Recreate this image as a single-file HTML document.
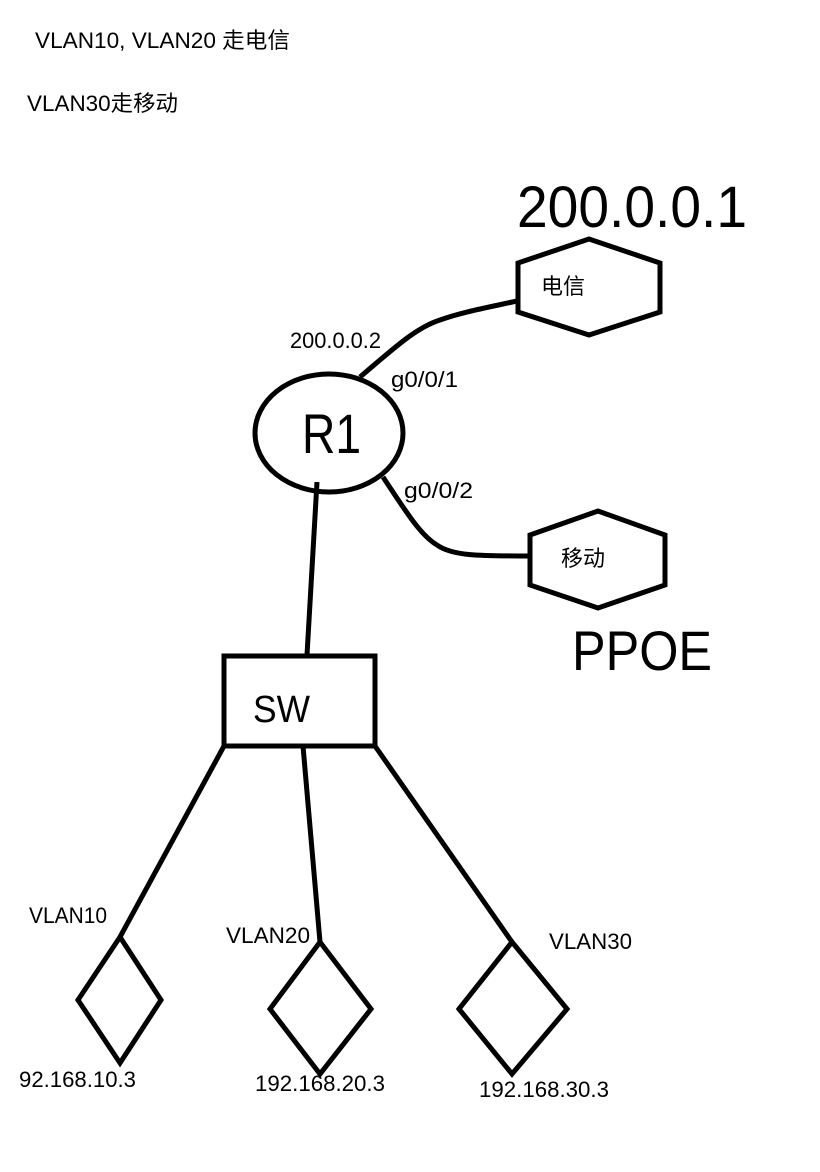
<!DOCTYPE html>
<html>
<head>
<meta charset="utf-8">
<style>
html,body{margin:0;padding:0;background:#fff;width:820px;height:1172px;overflow:hidden}
svg{display:block}
text{font-family:"Liberation Sans","Noto Sans CJK SC",sans-serif;fill:#000}
.s{fill:none;stroke:#000;stroke-width:5;stroke-linejoin:miter}
</style>
</head>
<body>
<svg width="820" height="1172" viewBox="0 0 820 1172" xmlns="http://www.w3.org/2000/svg">
<rect width="820" height="1172" fill="#fff"/>
<polygon class="s" points="518,263 589,239 660,263 660,312 589,335 518,312"/>
<polygon class="s" points="530,535 598,511 665,535 665,585 598,608 530,585"/>
<ellipse class="s" cx="329" cy="433" rx="74" ry="59"/>
<path class="s" d="M360,377 C392,350 415,328 440,320 C462,312 490,307 517,301"/>
<path class="s" d="M383,477 C405,510 420,535 437,545 C452,556 480,556 530,556"/>
<path class="s" d="M317,482 L307,655"/>
<rect class="s" x="224" y="656" width="151" height="90"/>
<path class="s" d="M224,746 L120,937 M303,746 L320,942 M375,746 L512,942"/>
<polygon class="s" points="120,937 161,1000 120,1063 78,1000"/>
<polygon class="s" points="320,942 371,1009 320,1074 270,1009"/>
<polygon class="s" points="512,942 567,1009 512,1074 459,1009"/>

<text x="35" y="48" font-size="22" textLength="255" lengthAdjust="spacingAndGlyphs">VLAN10, VLAN20 走电信</text>
<text x="27" y="111" font-size="22" textLength="151" lengthAdjust="spacingAndGlyphs">VLAN30走移动</text>
<text x="517" y="227" font-size="58" textLength="230" lengthAdjust="spacingAndGlyphs">200.0.0.1</text>
<text x="302" y="453" font-size="56" textLength="59" lengthAdjust="spacingAndGlyphs">R1</text>
<text x="541" y="294" font-size="22" textLength="44" lengthAdjust="spacingAndGlyphs">电信</text>
<text x="561" y="566" font-size="22" textLength="44" lengthAdjust="spacingAndGlyphs">移动</text>
<text x="290" y="348" font-size="22" textLength="91" lengthAdjust="spacingAndGlyphs">200.0.0.2</text>
<text x="391" y="387" font-size="22" textLength="67" lengthAdjust="spacingAndGlyphs">g0/0/1</text>
<text x="404" y="498" font-size="22" textLength="69" lengthAdjust="spacingAndGlyphs">g0/0/2</text>
<text x="572" y="670" font-size="56" textLength="140" lengthAdjust="spacingAndGlyphs">PPOE</text>
<text x="253" y="722" font-size="38" textLength="57" lengthAdjust="spacingAndGlyphs">SW</text>
<text x="29" y="923" font-size="22" textLength="78" lengthAdjust="spacingAndGlyphs">VLAN10</text>
<text x="226" y="943" font-size="22" textLength="84" lengthAdjust="spacingAndGlyphs">VLAN20</text>
<text x="549" y="949" font-size="22" textLength="83" lengthAdjust="spacingAndGlyphs">VLAN30</text>
<text x="19" y="1087" font-size="22" textLength="117" lengthAdjust="spacingAndGlyphs">92.168.10.3</text>
<text x="255" y="1091" font-size="22" textLength="130" lengthAdjust="spacingAndGlyphs">192.168.20.3</text>
<text x="479" y="1097" font-size="22" textLength="130" lengthAdjust="spacingAndGlyphs">192.168.30.3</text>
</svg>
</body>
</html>
